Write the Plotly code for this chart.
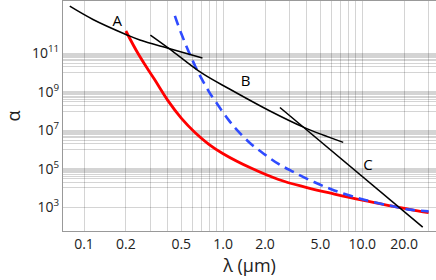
import numpy as np
import plotly.graph_objects as go

# --- data (lambda in um, log10 alpha) ---
red_lam = [0.2, 0.25, 0.32, 0.4, 0.5, 0.63, 0.79, 1.0, 1.6, 2.5, 4.0, 6.3, 10.0, 16.0, 25.0, 30.0]
red_loga = [12.16, 10.87, 9.66, 8.55, 7.63, 6.87, 6.27, 5.78, 5.02, 4.44, 4.02, 3.68, 3.36, 3.07, 2.81, 2.72]

blue_lam = [0.45, 0.5, 0.63, 0.79, 0.89, 1.09, 1.26, 1.58, 2.0, 2.5, 3.2, 4.5, 6.3, 10.0, 16.0, 22.0, 30.0]
blue_loga = [12.95, 12.03, 10.33, 9.01, 8.45, 7.55, 7.01, 6.30, 5.73, 5.245, 4.83, 4.305, 3.87, 3.41, 3.07, 2.87, 2.78]

a_lam = [0.079, 0.116, 0.2, 0.252, 0.414, 0.71]
a_loga = [13.45, 12.76, 11.98, 11.69, 11.24, 10.76]

b_lam = [0.30, 0.414, 0.70, 1.12, 2.17, 3.81, 7.3]
b_loga = [11.95, 11.22, 9.98, 9.13, 8.0, 7.15, 6.37]

c_lam = [2.56, 27.2]
c_loga = [8.18, 1.96]

label_text = ["A", "B", "C"]
label_lam = [0.173, 1.45, 11.0]
label_loga = [12.64, 9.48, 5.11]

x_ticks = [0.1, 0.2, 0.5, 1, 2, 5, 10, 20]
x_ticktext = ["0.1", "0.2", "0.5", "1.0", "2.0", "5.0", "10.0", "20.0"]
x_minor = [0.3, 0.4, 0.6, 0.7, 0.8, 0.9, 3, 4, 6, 7, 8, 9, 30]

y_exps = [3, 5, 7, 9, 11]
y_band_exps = [5, 7, 9, 11]

def pw(v):
    return [10 ** x for x in v]

fig = go.Figure()
fig.add_trace(go.Scatter(x=red_lam, y=pw(red_loga), mode="lines",
                         line=dict(color="#ff0000", width=2.8, shape="spline", smoothing=1.2), hoverinfo="skip"))
fig.add_trace(go.Scatter(x=blue_lam, y=pw(blue_loga), mode="lines",
                         line=dict(color="#2f4bff", width=2.6, dash="10px,6px", shape="spline"), hoverinfo="skip"))
for lx, ly in [(a_lam, a_loga), (b_lam, b_loga), (c_lam, c_loga)]:
    fig.add_trace(go.Scatter(x=lx, y=pw(ly), mode="lines",
                             line=dict(color="black", width=1.5, shape="spline"), hoverinfo="skip"))
fig.add_trace(go.Scatter(x=label_lam, y=pw(label_loga), mode="text", text=label_text,
                         textfont=dict(size=15, color="black", family="Open Sans"), hoverinfo="skip"))

y_minor = []
for e in y_band_exps:
    for m in range(1, 10):
        y_minor.append(m * 10 ** (e - 1))

grid = "rgba(0,0,0,0.17)"
fig.update_layout(
    width=436, height=280,
    margin=dict(l=63, r=0, t=1, b=49),
    paper_bgcolor="white", plot_bgcolor="white",
    showlegend=False,
    font=dict(family="Open Sans", size=14, color="#222"),
    xaxis=dict(type="log", range=[-1.151, 1.530], automargin=False,
               tickmode="array", tickvals=x_ticks, ticktext=x_ticktext,
               showgrid=True, gridcolor=grid, gridwidth=1,
               minor=dict(tickmode="array", tickvals=x_minor, showgrid=True, gridcolor=grid, ticks=""),
               showline=True, linecolor="#999", linewidth=1, mirror=True,
               ticks="", zeroline=False,
               title=dict(text="λ (μm)", font=dict(size=18), standoff=2)),
    yaxis=dict(type="log", range=[1.76, 13.72], automargin=False,
               tickmode="array", tickvals=[10 ** e for e in y_exps],
               ticktext=[f"10<sup>{e}</sup>" for e in y_exps],
               showgrid=True, gridcolor=grid, gridwidth=1,
               minor=dict(tickmode="array", tickvals=y_minor, showgrid=True, gridcolor=grid, ticks=""),
               showline=True, linecolor="#999", linewidth=1,
               ticks="", zeroline=False,
               title=dict(text="α", font=dict(size=18), standoff=6)),
)
fig.write_html("out.html", config={"displayModeBar": False},
               post_script="document.body.style.margin='0';document.body.style.overflow='hidden';")
